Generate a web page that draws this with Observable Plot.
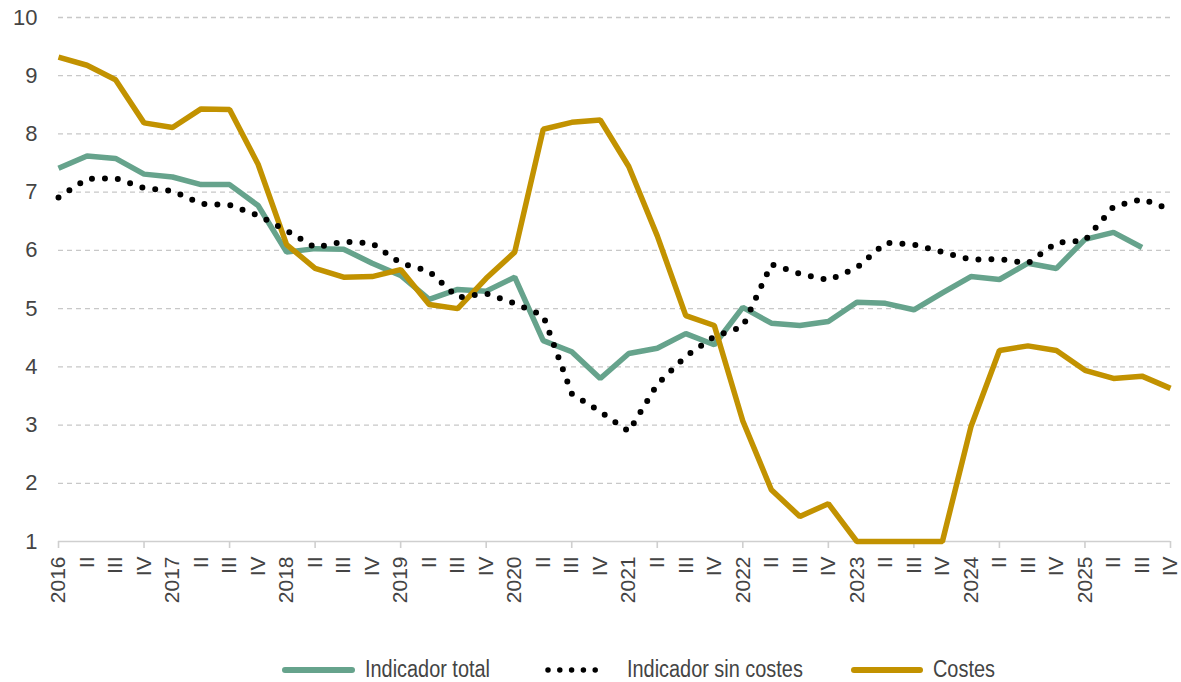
<!DOCTYPE html>
<html>
<head>
<meta charset="utf-8">
<script src="https://cdn.jsdelivr.net/npm/d3@7"></script>
<script src="https://cdn.jsdelivr.net/npm/@observablehq/plot@0.6"></script>
<style>
  body { margin: 0; background: #fff; font-family: "Liberation Sans", sans-serif; }
  #chart svg { display: block; overflow: visible; }
  .legend { position: relative; height: 42px; color: #444; font-size: 23px; font-family: "Liberation Sans", sans-serif; }
  .legend > * { position: absolute; }
  .legend span { top: 16px; line-height: 26px; white-space: nowrap; transform: scaleX(0.865); transform-origin: 0 50%; }
  .legend svg { top: 24px; display: block; }
</style>
</head>
<body>
<div id="chart"></div>
<div class="legend" id="legend"></div>
<script>
const years = [2016, 2017, 2018, 2019, 2020, 2021, 2022, 2023, 2024, 2025];
const quarterLabels = years.flatMap(y => [String(y), "II", "III", "IV"]);

const indicadorTotal = [7.41, 7.62, 7.58, 7.31, 7.26, 7.13, 7.13, 6.77, 5.97, 6.03,
  6.02, 5.78, 5.57, 5.16, 5.33, 5.30, 5.54, 4.45, 4.26, 3.80,
  4.23, 4.32, 4.57, 4.38, 5.02, 4.75, 4.71, 4.78, 5.11, 5.09,
  4.98, 5.27, 5.55, 5.50, 5.78, 5.69, 6.19, 6.31, 6.05, null];

const indicadorSinCostes = [6.91, 7.23, 7.24, 7.07, 7.02, 6.80, 6.78, 6.60, 6.34, 6.05,
  6.15, 6.12, 5.78, 5.64, 5.19, 5.26, 5.09, 4.88, 3.54, 3.23,
  2.89, 3.70, 4.18, 4.52, 4.69, 5.76, 5.60, 5.49, 5.70, 6.13,
  6.10, 5.97, 5.84, 5.85, 5.78, 6.13, 6.17, 6.75, 6.88, 6.70];

const costes = [9.32, 9.18, 8.93, 8.19, 8.11, 8.43, 8.42, 7.48, 6.10, 5.69,
  5.54, 5.55, 5.67, 5.07, 5.00, 5.52, 5.97, 8.08, 8.20, 8.24,
  7.44, 6.25, 4.88, 4.71, 3.07, 1.89, 1.43, 1.65, 1.00, 1.00,
  1.00, 1.00, 2.97, 4.28, 4.36, 4.28, 3.94, 3.80, 3.84, 3.63];

const yTicks = [1, 2, 3, 4, 5, 6, 7, 8, 9, 10];
const seriesNames = ["Indicador total", "Indicador sin costes", "Costes"];
const colors = { total: "#66a38c", costes: "#c29200", sin: "#000000" };

const idx = d3.range(quarterLabels.length);
const toRows = arr => arr.map((v, i) => ({ i, v }));

const chart = Plot.plot({
  width: 1181,
  height: 640,
  marginLeft: 58,
  marginRight: 11,
  marginTop: 17,
  marginBottom: 99,
  style: { fontFamily: "'Liberation Sans', sans-serif", color: "#444", background: "#fff", overflow: "visible" },
  x: { type: "linear", domain: [0, quarterLabels.length - 1] },
  y: { domain: [1, 10] },
  marks: [
    Plot.gridY(yTicks.slice(1), { stroke: "#c8c8c8", strokeOpacity: 1, strokeWidth: 1.3, strokeDasharray: "5,4" }),
    Plot.ruleY([1], { stroke: "#cfcfcf", strokeWidth: 1.6 }),
    Plot.axisY({ ticks: yTicks, tickSize: 0, tickPadding: 21, fontSize: 22, label: null }),
    Plot.axisX({ ticks: d3.range(0, quarterLabels.length, 3), tickSize: 7, stroke: "#cfcfcf", strokeWidth: 1.6, tickFormat: () => "", label: null }),
    Plot.axisX({ ticks: idx, tickSize: 0, tickPadding: 15, tickRotate: -90, fontSize: 21, tickFormat: i => quarterLabels[i], label: null }),
    Plot.line(toRows(indicadorTotal), { x: "i", y: "v", stroke: colors.total, strokeWidth: 5.5, strokeLinejoin: "miter", strokeLinecap: "butt" }),
    Plot.line(toRows(costes), { x: "i", y: "v", stroke: colors.costes, strokeWidth: 5.5, strokeLinejoin: "miter", strokeLinecap: "butt" }),
    Plot.line(toRows(indicadorSinCostes), { x: "i", y: "v", stroke: colors.sin, strokeWidth: 6, strokeDasharray: "0,13", strokeLinecap: "round", curve: "linear" })
  ]
});
document.getElementById("chart").append(chart);

// legend
const legend = document.getElementById("legend");
function swatch(type, w, left) {
  const ns = "http://www.w3.org/2000/svg";
  const s = document.createElementNS(ns, "svg");
  s.setAttribute("width", w); s.setAttribute("height", 12);
  s.style.left = left + "px";
  const l = document.createElementNS(ns, "line");
  l.setAttribute("y1", 6); l.setAttribute("y2", 6);
  l.setAttribute("x1", 3); l.setAttribute("x2", w - 3);
  if (type === "sin") {
    l.setAttribute("stroke", colors.sin);
    l.setAttribute("stroke-width", 5.5);
    l.setAttribute("stroke-dasharray", "0,11.8");
    l.setAttribute("stroke-linecap", "round");
  } else {
    l.setAttribute("stroke", colors[type]);
    l.setAttribute("stroke-width", 6);
    l.setAttribute("stroke-linecap", "round");
  }
  s.append(l);
  legend.append(s);
}
function label(text, left) {
  const t = document.createElement("span");
  t.textContent = text;
  t.style.left = left + "px";
  legend.append(t);
}
swatch("total", 73, 282); label(seriesNames[0], 365);
swatch("sin", 65, 545);   label(seriesNames[1], 627);
swatch("costes", 72, 851); label(seriesNames[2], 933);
</script>
</body>
</html>
